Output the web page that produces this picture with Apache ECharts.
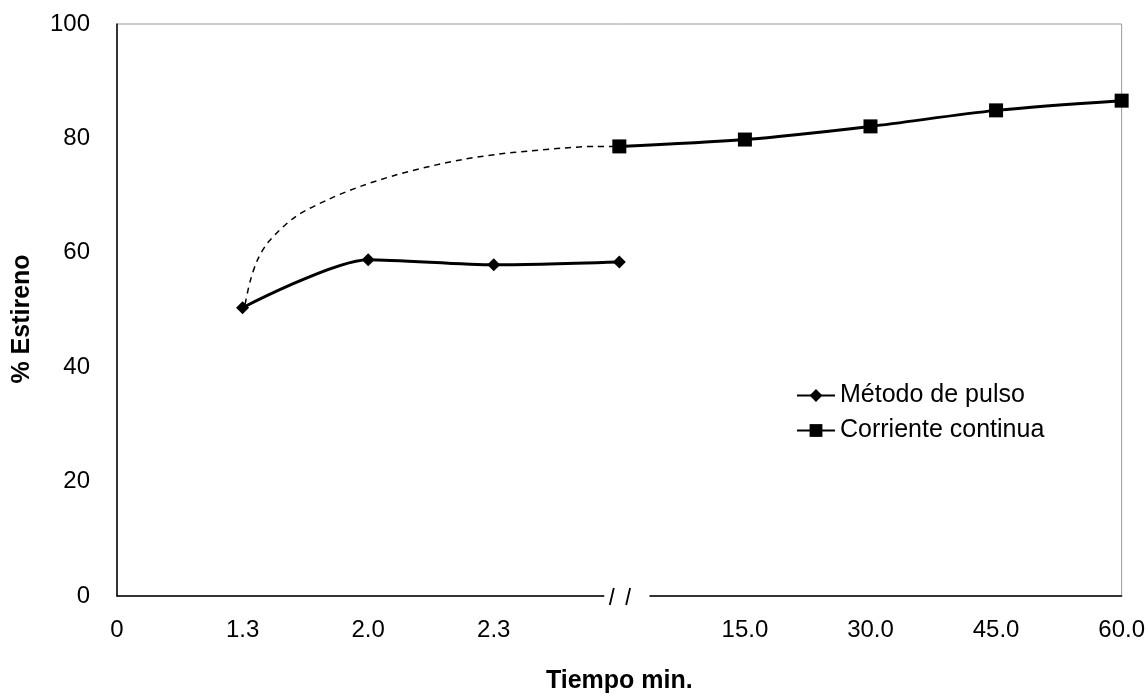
<!DOCTYPE html>
<html>
<head>
<meta charset="utf-8">
<script src="https://cdn.jsdelivr.net/npm/echarts@6/dist/echarts.min.js"></script>
<style>
  html, body { margin: 0; padding: 0; background: #fff; }
  #chart { width: 1148px; height: 699px; }
</style>
</head>
<body>
<div id="chart"></div>
<script>
// Category positions along the x axis (index 4 is the axis break "//")
const categories = ['0', '1.3', '2.0', '2.3', '', '15.0', '30.0', '45.0', '60.0'];
const breakIndex = 4;

// % Estireno, aligned with categories (null = no point)
const pulso    = [null, 50.4, 58.8, 57.9, 58.4, null, null, null, null];
const continua = [null, null, null, null, 78.6, 79.8, 82.1, 84.9, 86.6];

// Dashed trend curve (x in category-index units)
const tendenciaX = [1.02, 1.06, 1.12, 1.21, 1.42, 1.69, 1.95, 2.22, 2.49, 2.75, 3.02, 3.28, 3.55, 3.81, 4.0];
const tendenciaY = [51.0, 55.0, 58.8, 62.0, 66.3, 69.4, 71.7, 73.6, 75.1, 76.3, 77.2, 77.8, 78.3, 78.6, 78.6];

const yTicks = { min: 0, max: 100, interval: 20 };

const toPairs = arr => arr.map((v, i) => v == null ? null : [i, v]).filter(Boolean);
const FONT = "'Liberation Sans', Arial, sans-serif";

const chart = echarts.init(document.getElementById('chart'), null, { renderer: 'canvas' });

chart.setOption({
  animation: false,
  backgroundColor: '#ffffff',
  grid: {
    left: 117, right: 26, top: 24, bottom: 95,
    show: true, borderColor: '#9a9a9a', borderWidth: 1, backgroundColor: 'transparent'
  },
  legend: {
    orient: 'vertical',
    left: 791, top: 378,
    itemWidth: 38, itemHeight: 16, itemGap: 10,
    data: ['Método de pulso', 'Corriente continua'],
    textStyle: { fontFamily: FONT, fontSize: 25, color: '#000' }
  },
  xAxis: {
    type: 'value',
    min: 0, max: categories.length - 1, interval: 1,
    axisLine: { show: true, lineStyle: { color: '#000', width: 1.5 } },
    axisTick: { show: false },
    splitLine: { show: false },
    axisLabel: {
      margin: 22, fontFamily: FONT, fontSize: 24, color: '#000',
      formatter: v => categories[Math.round(v)] || ''
    },
    name: 'Tiempo min.',
    nameLocation: 'middle',
    nameGap: 73,
    nameTextStyle: { fontFamily: FONT, fontSize: 25, fontWeight: 'bold', color: '#000' }
  },
  yAxis: {
    type: 'value',
    min: yTicks.min, max: yTicks.max, interval: yTicks.interval,
    axisLine: { show: true, lineStyle: { color: '#000', width: 1.5 } },
    axisTick: { show: false },
    splitLine: { show: false },
    axisLabel: { margin: 27, fontFamily: FONT, fontSize: 24, color: '#000' },
    name: '% Estireno',
    nameLocation: 'middle',
    nameGap: 82,
    nameRotate: 90,
    nameTextStyle: { fontFamily: FONT, fontSize: 25, fontWeight: 'bold', color: '#000', padding: [0, 18, 0, 0] }
  },
  series: [
    {
      name: 'tendencia',
      type: 'line',
      data: tendenciaX.map((x, i) => [x, tendenciaY[i]]),
      smooth: 0.3,
      showSymbol: false,
      lineStyle: { color: '#000', width: 1.5, type: [6, 5] },
      z: 1
    },
    {
      name: 'Método de pulso',
      type: 'line',
      data: toPairs(pulso),
      smooth: 0.25,
      symbol: 'diamond',
      symbolSize: 13,
      itemStyle: { color: '#000' },
      lineStyle: { color: '#000', width: 3 },
      z: 3
    },
    {
      name: 'Corriente continua',
      type: 'line',
      data: toPairs(continua),
      smooth: 0.3,
      symbol: 'rect',
      symbolSize: 14,
      itemStyle: { color: '#000' },
      lineStyle: { color: '#000', width: 3 },
      z: 3
    }
  ]
});

// Axis break "//" on the x axis at the break category
const gx0 = chart.convertToPixel({ xAxisIndex: 0 }, breakIndex - 0.12);
const gx1 = chart.convertToPixel({ xAxisIndex: 0 }, breakIndex + 0.24);
const ay = chart.convertToPixel({ yAxisIndex: 0 }, 0);
const s1 = chart.convertToPixel({ xAxisIndex: 0 }, breakIndex - 0.06);
const s2 = chart.convertToPixel({ xAxisIndex: 0 }, breakIndex + 0.07);
chart.setOption({
  graphic: [
    { type: 'rect', z: 100, shape: { x: gx0, y: ay - 4, width: gx1 - gx0, height: 8 }, style: { fill: '#fff' } },
    { type: 'line', z: 101, shape: { x1: s1 + 2, y1: ay - 8, x2: s1 - 2, y2: ay + 9 }, style: { stroke: '#000', lineWidth: 1.8 } },
    { type: 'line', z: 101, shape: { x1: s2 + 2, y1: ay - 8, x2: s2 - 2, y2: ay + 9 }, style: { stroke: '#000', lineWidth: 1.8 } }
  ]
});
</script>
</body>
</html>
